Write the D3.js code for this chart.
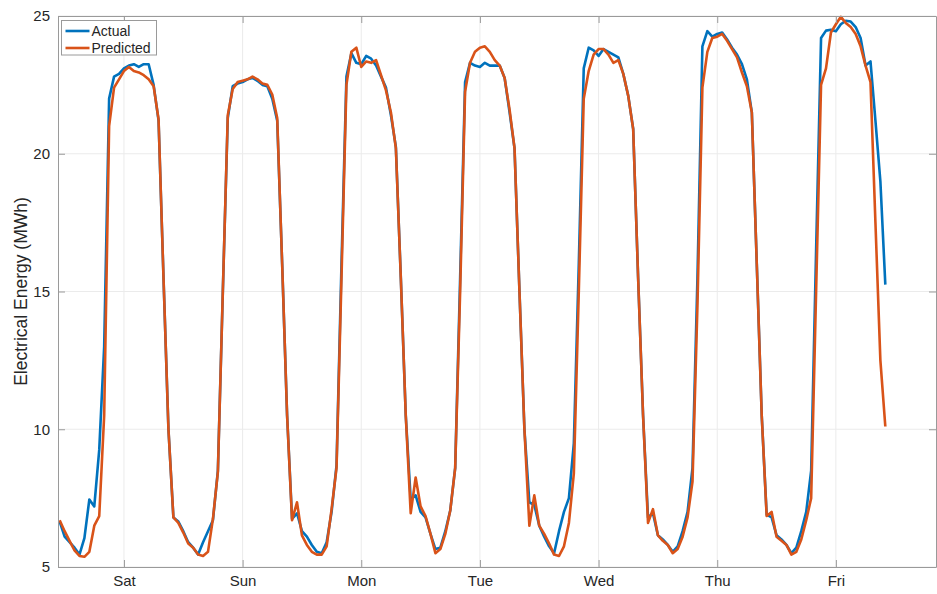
<!DOCTYPE html>
<html>
<head>
<meta charset="utf-8">
<script src="https://cdn.jsdelivr.net/npm/d3@7"></script>
<style>
  html, body { margin: 0; padding: 0; background: #fff; }
  svg { display: block; font-family: "Liberation Sans", Arial, Helvetica, sans-serif; }
</style>
</head>
<body>
<svg id="chart" width="937" height="594"></svg>
<script>
// Hourly electrical energy over one week: measured vs. model output (MWh)
const actual = [
  6.65, 6.1, 5.9, 5.7, 5.45, 6.05, 7.45, 7.2, 9.25, 13.0, 22.0, 22.8, 22.9, 23.1, 23.2, 23.25, 23.15, 23.25, 23.25, 22.5, 21.2, 15.5, 10.0, 6.8,
  6.65, 6.3, 5.9, 5.7, 5.45, 5.9, 6.3, 6.7, 8.5, 15.0, 21.3, 22.45, 22.55, 22.6, 22.7, 22.75, 22.65, 22.5, 22.45, 22.0, 21.2, 16.0, 10.5, 6.75,
  6.95, 6.3, 6.1, 5.8, 5.55, 5.5, 5.9, 7.0, 8.7, 16.0, 22.8, 23.65, 23.3, 23.25, 23.55, 23.45, 23.2, 22.8, 22.4, 21.4, 20.25, 15.5, 10.5, 7.45,
  7.6, 7.0, 6.8, 6.2, 5.65, 5.7, 6.3, 7.05, 8.6, 15.5, 22.6, 23.3, 23.2, 23.15, 23.3, 23.2, 23.2, 23.2, 22.75, 21.5, 20.2, 15.0, 10.0, 7.35,
  7.25, 6.5, 6.1, 5.75, 5.5, 6.3, 7.0, 7.5, 9.5, 16.0, 23.1, 23.85, 23.75, 23.55, 23.8, 23.7, 23.6, 23.5, 22.9, 22.1, 20.9, 15.5, 10.5, 6.8,
  6.95, 6.15, 6.0, 5.8, 5.55, 5.75, 6.3, 7.0, 8.6, 15.5, 23.9, 24.45, 24.25, 24.35, 24.4, 24.15, 23.85, 23.6, 23.25, 22.7, 21.5, 16.0, 10.5, 6.9,
  6.8, 6.15, 6.0, 5.8, 5.5, 5.7, 6.3, 7.0, 8.5, 16.5, 24.2, 24.47, 24.5, 24.45, 24.7, 24.83, 24.8, 24.6, 24.2, 23.2, 23.35, 21.2, 19.0, 15.25
];
const predicted = [
  6.7, 6.3, 5.95, 5.6, 5.4, 5.37, 5.55, 6.5, 6.85, 10.5, 21.0, 22.4, 22.7, 23.0, 23.15, 23.0, 22.95, 22.85, 22.7, 22.45, 21.25, 15.5, 10.0, 6.8,
  6.6, 6.25, 5.85, 5.7, 5.45, 5.4, 5.55, 6.75, 8.45, 15.0, 21.4, 22.35, 22.6, 22.65, 22.7, 22.8, 22.7, 22.55, 22.5, 22.15, 21.3, 16.0, 10.5, 6.7,
  7.35, 6.15, 5.8, 5.55, 5.45, 5.45, 5.75, 7.1, 8.6, 15.5, 22.5, 23.7, 23.85, 23.15, 23.35, 23.3, 23.4, 22.85, 22.3, 21.5, 20.2, 15.5, 10.5, 6.95,
  8.25, 7.2, 6.85, 6.2, 5.5, 5.65, 6.2, 7.05, 8.6, 15.0, 22.25, 23.3, 23.7, 23.85, 23.9, 23.7, 23.4, 23.2, 22.75, 21.6, 20.2, 15.0, 10.0, 6.5,
  7.6, 6.5, 6.2, 5.85, 5.45, 5.4, 5.75, 6.6, 8.4, 15.0, 22.0, 23.0, 23.6, 23.8, 23.8, 23.6, 23.3, 23.4, 22.9, 22.1, 20.9, 15.5, 10.5, 6.6,
  7.1, 6.15, 5.95, 5.8, 5.5, 5.65, 6.1, 6.8, 8.1, 14.5, 22.4, 23.7, 24.2, 24.25, 24.35, 24.1, 23.8, 23.5, 22.95, 22.45, 21.5, 16.0, 10.5, 6.85,
  7.0, 6.1, 5.95, 5.8, 5.45, 5.55, 6.0, 6.7, 7.5, 15.0, 22.5, 23.1, 24.4, 24.7, 24.97, 24.75, 24.6, 24.35, 23.9, 23.2, 22.6, 17.5, 12.5, 10.1
];
// hour index of each weekday tick
const dayLabels = ["Sat", "Sun", "Mon", "Tue", "Wed", "Thu", "Fri"];
const dayTickHours = [13, 37, 61, 85, 109, 133, 157];
const yTicks = [5, 10, 15, 20, 25];
const seriesNames = ["Actual", "Predicted"];
const seriesColors = ["#0072BD", "#D95319"];

const svg = d3.select("#chart");
const plotLeft = 58, plotRight = 936, plotTop = 16, plotBottom = 567;

const x = d3.scaleLinear().domain([-0.34, 177.25]).range([plotLeft, plotRight]);
const y = d3.scaleLinear().domain([5, 25]).range([plotBottom, plotTop]);

const axisColor = "#9a9a9a";
const textColor = "#262626";

// grid
const grid = svg.append("g");
grid.selectAll("line.gx").data(dayTickHours).join("line")
  .attr("x1", d => x(d)).attr("x2", d => x(d))
  .attr("y1", plotTop).attr("y2", plotBottom)
  .attr("stroke", "#ebebeb").attr("stroke-width", 1);
grid.selectAll("line.gy").data(yTicks).join("line")
  .attr("x1", plotLeft).attr("x2", plotRight)
  .attr("y1", d => y(d)).attr("y2", d => y(d))
  .attr("stroke", "#ebebeb").attr("stroke-width", 1);

// data lines
svg.append("clipPath").attr("id", "plotclip")
  .append("rect").attr("x", plotLeft).attr("y", plotTop - 1.5)
  .attr("width", plotRight - plotLeft).attr("height", plotBottom - plotTop + 3);

const line = d3.line().x((d, i) => x(i)).y(d => y(d));
const plot = svg.append("g").attr("clip-path", "url(#plotclip)");
[actual, predicted].forEach((vals, k) => {
  plot.append("path")
    .datum(vals)
    .attr("d", line)
    .attr("fill", "none")
    .attr("stroke", seriesColors[k])
    .attr("stroke-width", 2.6)
    .attr("stroke-linejoin", "round");
});

// axes with inward ticks, boxed
const xAxisB = d3.axisBottom(x).tickValues(dayTickHours)
  .tickFormat((d, i) => dayLabels[i]).tickSizeInner(-7).tickSizeOuter(0).tickPadding(8);
const xAxisT = d3.axisTop(x).tickValues(dayTickHours)
  .tickFormat("").tickSizeInner(-7).tickSizeOuter(0);
const yAxisL = d3.axisLeft(y).tickValues(yTicks)
  .tickSizeInner(-7).tickSizeOuter(0).tickPadding(8);
const yAxisR = d3.axisRight(y).tickValues(yTicks)
  .tickFormat("").tickSizeInner(-7).tickSizeOuter(0);

function styleAxis(g) {
  g.select(".domain").attr("stroke", axisColor).attr("stroke-width", 1);
  g.selectAll(".tick line").attr("stroke", axisColor).attr("stroke-width", 1);
  g.selectAll(".tick text").attr("fill", textColor)
    .style("font-size", "15px").style("font-family", "'Liberation Sans', Arial, sans-serif");
}
svg.append("g").attr("transform", `translate(0,${plotBottom})`).call(xAxisB).call(styleAxis);
svg.append("g").attr("transform", `translate(0,${plotTop})`).call(xAxisT).call(styleAxis);
svg.append("g").attr("transform", `translate(${plotLeft},0)`).call(yAxisL).call(styleAxis);
svg.append("g").attr("transform", `translate(${plotRight},0)`).call(yAxisR).call(styleAxis);

// y label
svg.append("text")
  .attr("transform", `translate(26.5,${(plotTop + plotBottom) / 2}) rotate(-90)`)
  .attr("text-anchor", "middle")
  .attr("fill", textColor)
  .style("font-size", "17.5px")
  .text("Electrical Energy (MWh)");

// legend
const lg = svg.append("g");
lg.append("rect").attr("x", 61.5).attr("y", 20.5).attr("width", 95).attr("height", 34.5)
  .attr("fill", "#fff").attr("stroke", axisColor).attr("stroke-width", 1);
seriesNames.forEach((name, k) => {
  const yy = 31 + k * 17;
  lg.append("line").attr("x1", 65.5).attr("x2", 89.5).attr("y1", yy).attr("y2", yy)
    .attr("stroke", seriesColors[k]).attr("stroke-width", 2.6);
  lg.append("text").attr("x", 91.5).attr("y", yy + 5)
    .attr("fill", textColor).style("font-size", "14px").text(name);
});
</script>
</body>
</html>
